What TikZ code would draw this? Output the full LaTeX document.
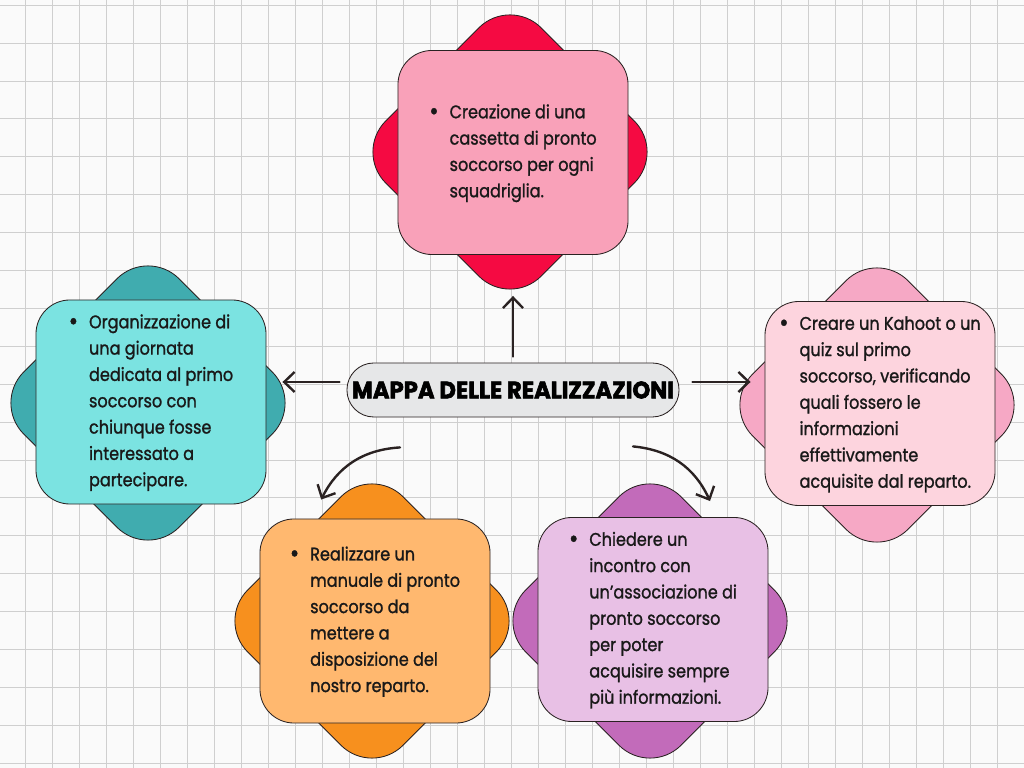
\documentclass[tikz,border=0pt]{standalone}
\usepackage{fontspec}
\setmainfont{Poppins}[FakeStretch=0.88, FakeBold=1.2]
\newfontfamily\titlefont[FakeStretch=0.95, FakeBold=2.5]{Poppins}
\usetikzlibrary{arrows.meta}
\definecolor{fondo}{HTML}{FAFAFA}
\definecolor{riga}{HTML}{CFCFCF}
\definecolor{scuro}{HTML}{2A2222}
\definecolor{grigio}{HTML}{E6E7E8}
\definecolor{rosso}{HTML}{F50A42}
\definecolor{rosa}{HTML}{F9A1B9}
\definecolor{petrolio}{HTML}{40ACAF}
\definecolor{azzurro}{HTML}{7BE3E1}
\definecolor{malva}{HTML}{F6A8C5}
\definecolor{cipria}{HTML}{FDD4DE}
\definecolor{arancio}{HTML}{F7901E}
\definecolor{pesca}{HTML}{FFB86F}
\definecolor{viola}{HTML}{C26BBA}
\definecolor{lilla}{HTML}{E8C0E5}
\newcommand{\voce}[1]{\raisebox{-0.15ex}{\scalebox{1.4}{\textbullet}}\hspace{0.6em}{\renewcommand{\arraystretch}{1.2}\begin{tabular}[t]{@{}l@{}}#1\end{tabular}}}

\begin{document}
\begin{tikzpicture}[x=0.025cm, y=0.025cm,
  box/.style={draw=scuro, line width=0.6pt, rounded corners=0.85cm, minimum width=5.75cm, minimum height=5.1cm, inner sep=0pt, text=black!90, font=\fontsize{13}{15.6}\selectfont},
  rombo/.style={draw=scuro, line width=0.6pt, rounded corners=1.1cm, minimum size=5.49cm, rotate=45},
  freccia/.style={-{Straight Barb[length=2.6mm,width=5mm]}, line width=1.7pt, draw=scuro, line cap=round}]
\useasboundingbox (0,0) rectangle (1024,768);
% sfondo a quadretti
\fill[fondo] (0,0) rectangle (1024,768);
\foreach \gx in {25,52,...,1024} \draw[riga, line width=0.5pt] (\gx,0) -- (\gx,768);
\foreach \gy in {762.9,725,...,0} \draw[riga, line width=0.5pt] (0,\gy) -- (1024,\gy);

\node[rombo, fill=rosso] (crea-r) at (510,616) {};
\node[rombo, fill=petrolio] (giornata-r) at (148,365) {};
\node[rombo, fill=malva] (kahoot-r) at (877,363) {};
\node[rombo, fill=arancio] (manuale-r) at (372,147) {};
\node[rombo, fill=viola] (incontro-r) at (650,147) {};

\node[box, fill=rosa] (crea) at (513,615.5) {\voce{Creazione di una\\cassetta di pronto\\soccorso per ogni\\squadriglia.}};
\node[box, fill=azzurro] (giornata) at (151,366) {\voce{Organizzazione di\\una giornata\\dedicata al primo\\soccorso con\\chiunque fosse\\interessato a\\partecipare.}};
\node[box, fill=cipria] (kahoot) at (880,364.5) {\voce{Creare un Kahoot o un\\quiz sul primo\\soccorso, verificando\\quali fossero le\\informazioni\\effettivamente\\acquisite dal reparto.}};
\node[box, fill=pesca] (manuale) at (375,147) {\voce{Realizzare un\\manuale di pronto\\soccorso da\\mettere a\\disposizione del\\nostro reparto.}};
\node[box, fill=lilla] (incontro) at (653,148.5) {\voce{Chiedere un\\incontro con\\un’associazione di\\pronto soccorso\\per poter\\acquisire sempre\\più informazioni.}};

\node[draw=scuro, line width=0.6pt, fill=grigio, rounded corners=0.67cm, minimum width=8.3cm, minimum height=1.35cm, font=\titlefont\bfseries\fontsize{17}{20}\selectfont] (titolo) at (513,378) {MAPPA DELLE REALIZZAZIONI};

\coordinate (sx) at ([yshift=0.2cm]titolo.west);
\coordinate (dx) at ([yshift=0.2cm]titolo.east);
\draw[freccia, shorten <=0.15cm, shorten >=1.025cm] (titolo.north) -- (crea.south);
\draw[freccia, shorten <=0.175cm, shorten >=0.4cm] (sx) -- (sx -| giornata.east);
\draw[freccia, shorten <=0.325cm, shorten >=0.35cm] (dx) -- (dx -| kahoot.west);
\draw[freccia] ([xshift=-2.825cm,yshift=-0.75cm]titolo.south) to[bend right=30] ([xshift=1.54cm,yshift=0.475cm]manuale.north west);
\draw[freccia] ([xshift=3cm,yshift=-0.725cm]titolo.south) to[bend left=30] ([xshift=1.425cm,yshift=0.4cm]incontro.north);
\end{tikzpicture}
\end{document}
